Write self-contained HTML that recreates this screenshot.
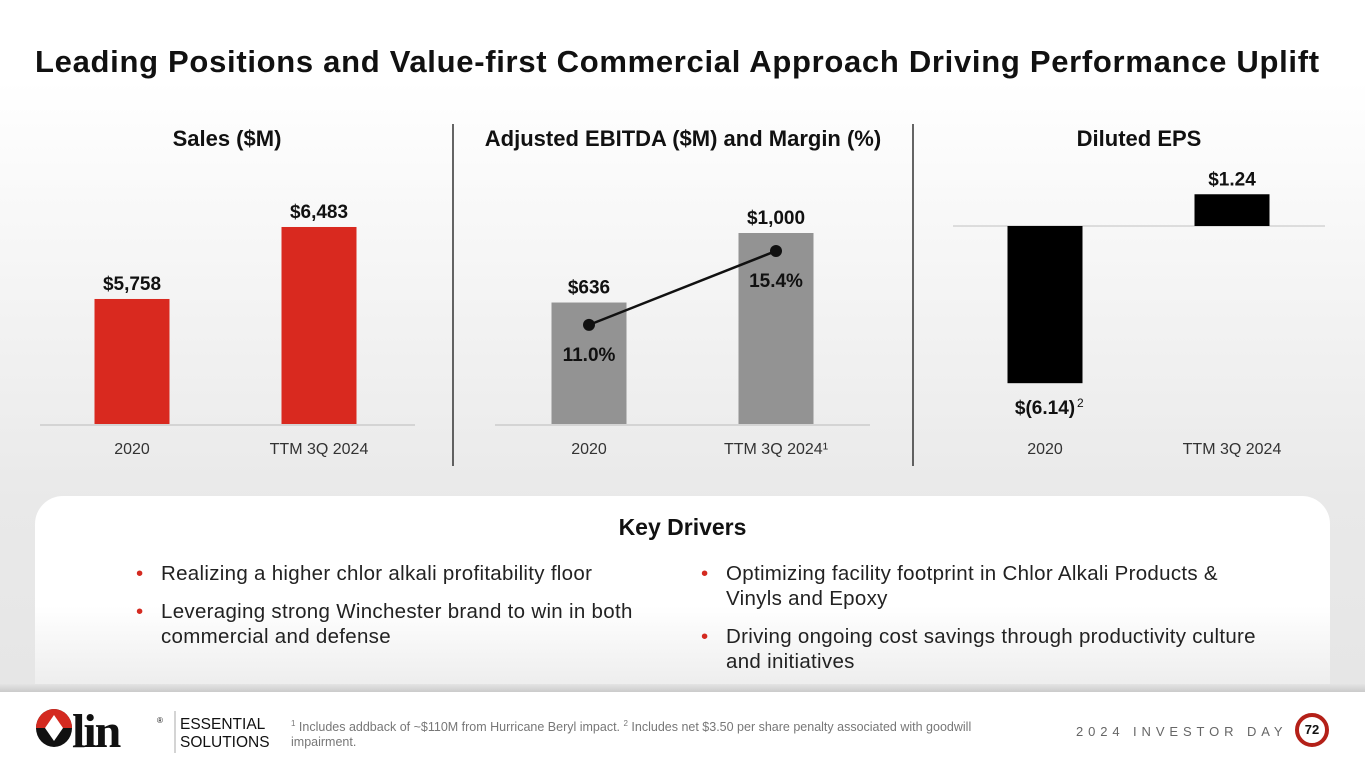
<!DOCTYPE html>
<html><head><meta charset="utf-8"><style>
body{margin:0;width:1365px;height:768px;overflow:hidden;font-family:"Liberation Sans",sans-serif;}
#bg{position:absolute;left:0;top:0;width:1365px;height:692px;background:linear-gradient(#fff 0,#fff 80px,#e9e9e9 500px,#e6e6e6 692px);}
#panel{position:absolute;left:35px;top:496px;width:1295px;height:200px;border-radius:28px 28px 0 0;background:linear-gradient(#fff 0,#fff 110px,#ececec 196px);}
#shadow{position:absolute;left:0;top:684px;width:1365px;height:10px;background:linear-gradient(#e4e4e4,#c4c4c4);}
#footer{position:absolute;left:0;top:692px;width:1365px;height:76px;background:#fff;}
.t{position:absolute;white-space:nowrap;}
</style></head><body>
<div id="bg"></div>
<div id="panel"></div>
<div id="shadow"></div>
<div id="footer"></div>
<div class="t" style="left:35px;top:44px;font-size:31px;font-weight:bold;color:#111;letter-spacing:0.7px;">Leading Positions and Value-first Commercial Approach Driving Performance Uplift</div>
<svg id="chart" width="1365" height="480" style="position:absolute;left:0;top:0"></svg>
<div class="t" style="left:0;width:1365px;text-align:center;top:514px;font-size:23px;font-weight:bold;color:#111;">Key Drivers</div>
<div style="position:absolute;left:136px;top:561px;width:520px;font-size:20.5px;letter-spacing:0.3px;color:#222;line-height:25px;">
<div style="position:relative;padding-left:25px;margin-bottom:13px;"><span style="position:absolute;left:0;color:#d42a20;">•</span>Realizing a higher chlor alkali profitability floor</div>
<div style="position:relative;padding-left:25px;"><span style="position:absolute;left:0;color:#d42a20;">•</span>Leveraging strong Winchester brand to win in both commercial and defense</div>
</div>
<div style="position:absolute;left:701px;top:561px;width:572px;font-size:20.5px;letter-spacing:0.3px;color:#222;line-height:25px;">
<div style="position:relative;padding-left:25px;margin-bottom:13px;"><span style="position:absolute;left:0;color:#d42a20;">•</span>Optimizing facility footprint in Chlor Alkali Products &amp; Vinyls and Epoxy</div>
<div style="position:relative;padding-left:25px;"><span style="position:absolute;left:0;color:#d42a20;">•</span>Driving ongoing cost savings through productivity culture and initiatives</div>
</div>
<svg width="170" height="50" style="position:absolute;left:35px;top:707px">
<ellipse cx="19" cy="21" rx="18" ry="19" fill="#111"/>
<path d="M1,21 A18,19 0 0 1 37,21 Z" fill="#d42a20"/>
<polygon points="19,8 28,21 19,34 10,21" fill="#fff"/>
<text x="37" y="40" font-family="Liberation Serif,serif" font-weight="bold" font-size="48" letter-spacing="-2" fill="#111">lin</text>
<text x="122" y="16" font-size="8" fill="#111">®</text>
<line x1="140" y1="4" x2="140" y2="46" stroke="#aaa"/>
</svg>
<div class="t" style="left:180px;top:716px;font-size:15.5px;line-height:18px;color:#111;">ESSENTIAL<br>SOLUTIONS</div>
<div class="t" style="left:291px;top:716px;font-size:12.5px;line-height:15px;color:#777;white-space:normal;width:705px;"><sup style="font-size:8px">1</sup> Includes addback of ~$110M from Hurricane Beryl impact. <sup style="font-size:8px">2</sup> Includes net $3.50 per share penalty associated with goodwill impairment.</div>
<div class="t" style="left:1076px;top:724px;font-size:13px;letter-spacing:4.9px;color:#666;">2024 INVESTOR DAY</div>
<div style="position:absolute;left:1295px;top:713px;width:26px;height:26px;border:4px solid #b42018;border-radius:50%;background:#fff;text-align:center;line-height:26px;font-size:13px;font-weight:bold;color:#111;">72</div>
<script>
const cats1=["2020","TTM 3Q 2024"];
const salesVals=[5758,6483];
const salesLabels=["$5,758","$6,483"];
const cats2=["2020","TTM 3Q 2024¹"];
const ebitdaVals=[636,1000];
const ebitdaLabels=["$636","$1,000"];
const marginVals=[11.0,15.4];
const marginLabels=["11.0%","15.4%"];
const cats3=["2020","TTM 3Q 2024"];
const epsVals=[-6.14,1.24];
const epsLabels=["$(6.14)","$1.24"];
const svg=document.getElementById('chart');
const NS='http://www.w3.org/2000/svg';
function mk(tag,attrs,name,txt){const e=document.createElementNS(NS,tag);for(const k in attrs)e.setAttribute(k,attrs[k]);


if(txt!==undefined)e.textContent=txt;svg.appendChild(e);return e;}
const base=424;
const ySales=v=>base-(v-4499)*0.0993;
const xS=[132,319];
mk('line',{x1:40,y1:base+1,x2:415,y2:base+1,stroke:'#d4d4d4','stroke-width':2},'sales-axis');
mk('text',{x:227,y:146,'text-anchor':'middle','font-size':22,'font-weight':'bold',fill:'#111'},'sales-title','Sales ($M)');
salesVals.forEach((v,i)=>{const y=ySales(v);
mk('rect',{x:xS[i]-37.5,y:y,width:75,height:base-y,fill:'#d9291f'},'sales-bar');
mk('text',{x:xS[i],y:y-9,'text-anchor':'middle','font-size':19,'font-weight':'bold',fill:'#111'},'sales-value-label',salesLabels[i]);
mk('text',{x:xS[i],y:454,'text-anchor':'middle','font-size':16,fill:'#333'},'sales-category-label',cats1[i]);});
const yE=v=>base-v*0.191;
const yM=v=>base-(v-5.1)*16.8;
const xE=[589,776];
mk('line',{x1:453,y1:124,x2:453,y2:466,stroke:'#333','stroke-width':1.5},'divider-1');
mk('line',{x1:913,y1:124,x2:913,y2:466,stroke:'#333','stroke-width':1.5},'divider-2');
mk('line',{x1:495,y1:base+1,x2:870,y2:base+1,stroke:'#d4d4d4','stroke-width':2},'ebitda-axis');
mk('text',{x:683,y:146,'text-anchor':'middle','font-size':22,'font-weight':'bold',fill:'#111'},'ebitda-title','Adjusted EBITDA ($M) and Margin (%)');
ebitdaVals.forEach((v,i)=>{const y=yE(v);
mk('rect',{x:xE[i]-37.5,y:y,width:75,height:base-y,fill:'#939393'},'ebitda-bar');
mk('text',{x:xE[i],y:y-9,'text-anchor':'middle','font-size':19,'font-weight':'bold',fill:'#111'},'ebitda-value-label',ebitdaLabels[i]);
mk('text',{x:xE[i],y:454,'text-anchor':'middle','font-size':16,fill:'#333'},'ebitda-category-label',cats2[i]);});
mk('line',{x1:xE[0],y1:yM(marginVals[0]),x2:xE[1],y2:yM(marginVals[1]),stroke:'#111','stroke-width':2.5},'margin-line');
marginVals.forEach((v,i)=>{const y=yM(v);
mk('circle',{cx:xE[i],cy:y,r:6,fill:'#111'},'margin-point');
mk('text',{x:xE[i],y:y+36,'text-anchor':'middle','font-size':19,'font-weight':'bold',fill:'#111'},'margin-label',marginLabels[i]);});
const zero=226;
const yP=v=>zero-v*25.6;
const xP=[1045,1232];
mk('text',{x:1139,y:146,'text-anchor':'middle','font-size':22,'font-weight':'bold',fill:'#111'},'eps-title','Diluted EPS');
mk('line',{x1:953,y1:zero,x2:1325,y2:zero,stroke:'#d4d4d4','stroke-width':1.5},'eps-zero-axis');
epsVals.forEach((v,i)=>{const y=yP(v);const top=Math.min(y,zero),h=Math.abs(y-zero);
mk('rect',{x:xP[i]-37.5,y:top,width:75,height:h,fill:'#000'},'eps-bar');
const ly=v<0?y+31:y-9;
mk('text',{x:xP[i],y:ly,'text-anchor':'middle','font-size':19,'font-weight':'bold',fill:'#111'},'eps-value-label',epsLabels[i]);
if(v<0)mk('text',{x:xP[i]+32,y:ly-7,'font-size':12,fill:'#111'},'eps-footnote-marker','2');
mk('text',{x:xP[i],y:454,'text-anchor':'middle','font-size':16,fill:'#333'},'eps-category-label',cats3[i]);});
</script>
</body></html>
